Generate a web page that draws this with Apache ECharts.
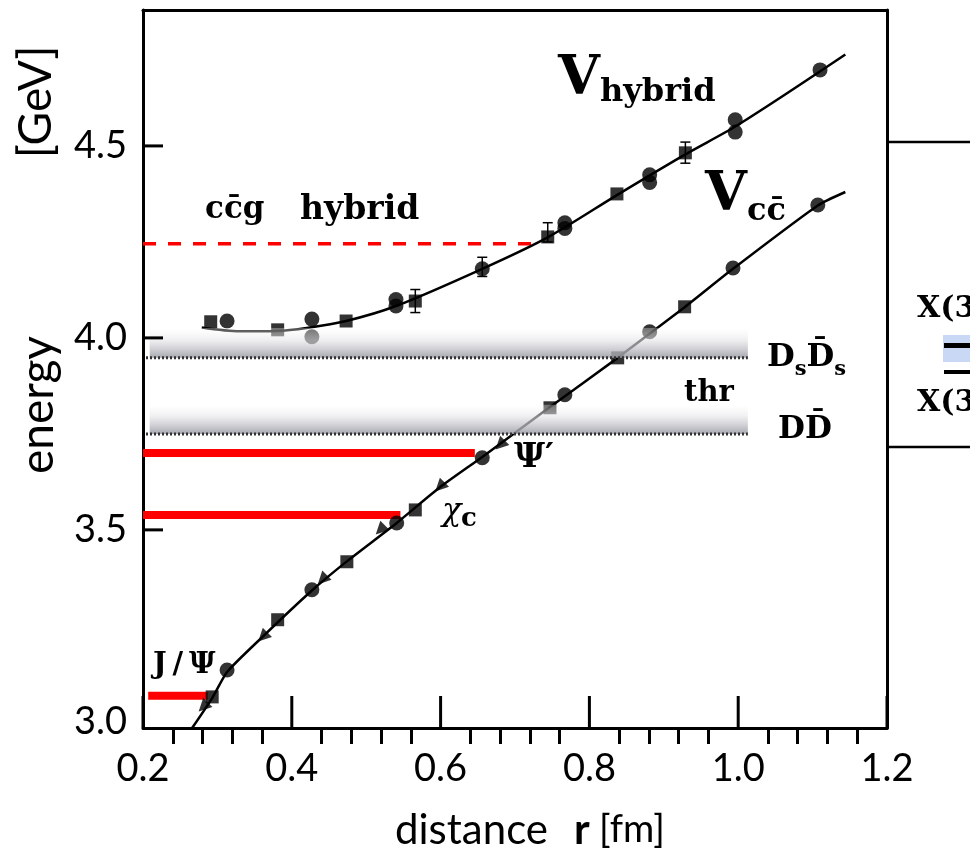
<!DOCTYPE html>
<html>
<head>
<meta charset="utf-8">
<script src="https://cdn.jsdelivr.net/npm/echarts@6/dist/echarts.min.js"></script>
<style>
  html, body { margin: 0; padding: 0; background: #fff; }
  #main { width: 970px; height: 858px; }
</style>
</head>
<body>
<div id="main"></div>
<script>
// 坐标范围与刻度
var xMin = 0.2, xMax = 1.2
var yMin = 2.984, yMax = 4.854
var xTicks = [0.2, 0.4, 0.6, 0.8, 1.0, 1.2]
var yTicks = [3.0, 3.5, 4.0, 4.5]
var yTickMarks = [3.5, 4.0, 4.5]

// 混合势 V_hybrid 拟合曲线
var hybCurveR = [0.279, 0.33, 0.38, 0.42, 0.473, 0.54, 0.656, 0.744, 0.837, 0.929, 1.0, 1.144]
var hybCurveE = [4.027, 4.017, 4.018, 4.026, 4.044, 4.083, 4.18, 4.262, 4.372, 4.478, 4.555, 4.738]
// 混合势 数据点
var hybSquareR = [0.291, 0.381, 0.473, 0.566, 0.744, 0.837, 0.929]
var hybSquareE = [4.042, 4.021, 4.044, 4.096, 4.263, 4.375, 4.482]
var hybCircleR = [0.313, 0.427, 0.427, 0.540, 0.540, 0.656, 0.767, 0.767, 0.881, 0.881, 0.996, 0.996, 1.11]
var hybCircleE = [4.044, 4.049, 4.003, 4.083, 4.100, 4.18, 4.285, 4.30, 4.405, 4.425, 4.536, 4.568, 4.698]
// 误差棒 r, 下, 上
var hybErrR = [0.566, 0.656, 0.744, 0.929]
var hybErrLo = [4.066, 4.16, 4.25, 4.455]
var hybErrHi = [4.126, 4.21, 4.30, 4.51]

// V_cc 拟合曲线
var ccCurveR = [0.266, 0.293, 0.313, 0.361, 0.427, 0.474, 0.541, 0.599, 0.656, 0.747, 0.838, 0.928, 0.993, 1.107, 1.144]
var ccCurveE = [2.984, 3.062, 3.13, 3.222, 3.342, 3.418, 3.518, 3.611, 3.69, 3.82, 3.948, 4.08, 4.18, 4.345, 4.38]
// V_cc 数据点
var ccCircleR = [0.313, 0.427, 0.541, 0.656, 0.767, 0.881, 0.993, 1.107]
var ccCircleE = [3.135, 3.344, 3.518, 3.688, 3.852, 4.016, 4.182, 4.346]
var ccSquareR = [0.293, 0.381, 0.474, 0.566, 0.747, 0.838, 0.928]
var ccSquareE = [3.065, 3.266, 3.417, 3.552, 3.818, 3.948, 4.081]
var ccTriR = [0.281, 0.361, 0.441, 0.519, 0.599, 0.68]
var ccTriE = [3.039, 3.221, 3.37, 3.50, 3.612, 3.721]

// 能级 (红线): 起点, 终点, 能量
var levelNames = ['J/Ψ', 'χc', "Ψ'"]
var levelFrom = [0.207, 0.2, 0.2]
var levelTo = [0.287, 0.546, 0.646]
var levelE = [3.068, 3.539, 3.70]
// ccg 混合 阈值 (虚线)
var hybLevelFrom = [0.2]
var hybLevelTo = [0.73]
var hybLevelE = [4.245]

// 阈值带 DsDs / DD
var bandFrom = [0.209, 0.209]
var bandTo = [1.013, 1.013]
var bandBottom = [3.948, 3.750]
var bandTop = [4.026, 3.826]

function pairs(a, b) {
    return a.map(function (v, i) { return [v, b[i]] })
}

var myChart = echarts.init(document.getElementById('main'))

// 只显示边框的轴
var frameOnly = {
    axisLine: { show: true, lineStyle: { color: '#000', width: 3 } },
    axisTick: { show: false },
    axisLabel: { show: false },
    splitLine: { show: false }
}

var option = {
    animation: false,
    grid: {
        left: 143,
        right: 83,
        top: 10,
        bottom: 130
    },
    xAxis: [{
        type: 'value',
        min: xMin,
        max: xMax,
        interval: 0.2,
        axisLine: { show: true, lineStyle: { color: '#000', width: 3 } },
        axisTick: { show: false },
        minorTick: { show: true, splitNumber: 5, length: 16, lineStyle: { color: '#000', width: 3 } },
        splitLine: { show: false },
        minorSplitLine: { show: false },
        axisLabel: {
            show: true,
            color: '#000',
            fontFamily: 'Lato',
            fontSize: 38,
            margin: 22,
            formatter: function (v) { return v.toFixed(1) }
        }
    }, Object.assign({ type: 'value', position: 'top', min: xMin, max: xMax }, frameOnly)],
    yAxis: [{
        type: 'value',
        min: yMin,
        max: yMax,
        axisLine: { show: true, lineStyle: { color: '#000', width: 3 } },
        axisTick: { show: false },
        splitLine: { show: false },
        axisLabel: {
            show: true,
            customValues: yTicks,
            color: '#000',
            fontFamily: 'Lato',
            fontSize: 38,
            margin: 16,
            formatter: function (v) { return v.toFixed(1) }
        }
    }, Object.assign({ type: 'value', position: 'right', min: yMin, max: yMax }, frameOnly)],
    series: [
        // 主刻度 (向内): x 轴竖线, y 轴横线
        {
            type: 'custom',
            z: 6,
            zlevel: 1,
            silent: true,
            data: xTicks.map(function (v) { return [v, yMin, 0] })
                .concat(yTickMarks.map(function (v) { return [xMin, v, 1] })),
            renderItem: function (params, api) {
                var p = api.coord([api.value(0), api.value(1)])
                if (params.dataIndex >= xTicks.length) {
                    return {
                        type: 'rect',
                        shape: { x: p[0], y: p[1] - 1.5, width: 20, height: 3 },
                        style: { fill: '#000' }
                    }
                }
                return {
                    type: 'rect',
                    shape: { x: p[0] - 1.5, y: p[1] - 32, width: 3, height: 32 },
                    style: { fill: '#000' }
                }
            }
        },
        // 红色能级线
        {
            type: 'custom',
            z: 1,
            data: levelE.map(function (e, i) { return [levelFrom[i], levelTo[i], e] }),
            renderItem: function (params, api) {
                var p0 = api.coord([api.value(0), api.value(2)])
                var p1 = api.coord([api.value(1), api.value(2)])
                return {
                    type: 'line',
                    shape: { x1: p0[0], y1: p0[1], x2: p1[0], y2: p1[1] },
                    style: { stroke: '#ff0000', lineWidth: 8 }
                }
            }
        },
        {
            type: 'custom',
            z: 1,
            data: hybLevelE.map(function (e, i) { return [hybLevelFrom[i], hybLevelTo[i], e] }),
            renderItem: function (params, api) {
                var p0 = api.coord([api.value(0), api.value(2)])
                var p1 = api.coord([api.value(1), api.value(2)])
                return {
                    type: 'line',
                    shape: { x1: p0[0], y1: p0[1], x2: p1[0], y2: p1[1] },
                    style: { stroke: '#ff0000', lineWidth: 3.5, lineDash: [13, 12] }
                }
            }
        },
        // 曲线
        {
            type: 'line',
            z: 2,
            smooth: 0.3,
            showSymbol: false,
            data: pairs(hybCurveR, hybCurveE),
            lineStyle: { color: '#000', width: 2.5 }
        },
        {
            type: 'line',
            z: 2,
            smooth: 0.2,
            showSymbol: false,
            data: pairs(ccCurveR, ccCurveE),
            lineStyle: { color: '#000', width: 2.5 }
        },
        // 误差棒
        {
            type: 'custom',
            z: 3,
            data: hybErrR.map(function (r, i) { return [r, hybErrLo[i], hybErrHi[i]] }),
            renderItem: function (params, api) {
                var lo = api.coord([api.value(0), api.value(1)])
                var hi = api.coord([api.value(0), api.value(2)])
                var w = 5
                return {
                    type: 'group',
                    children: [
                        { type: 'line', shape: { x1: lo[0], y1: lo[1], x2: hi[0], y2: hi[1] }, style: { stroke: '#000', lineWidth: 1.5 } },
                        { type: 'line', shape: { x1: lo[0] - w, y1: lo[1], x2: lo[0] + w, y2: lo[1] }, style: { stroke: '#000', lineWidth: 1.5 } },
                        { type: 'line', shape: { x1: hi[0] - w, y1: hi[1], x2: hi[0] + w, y2: hi[1] }, style: { stroke: '#000', lineWidth: 1.5 } }
                    ]
                }
            }
        },
        // 数据点
        {
            type: 'scatter', z: 3, symbol: 'rect', symbolSize: 13,
            itemStyle: { color: '#000' },
            data: pairs(hybSquareR, hybSquareE).concat(pairs(ccSquareR, ccSquareE))
        },
        {
            type: 'scatter', z: 3, symbol: 'circle', symbolSize: 15,
            itemStyle: { color: '#000' },
            data: pairs(hybCircleR, hybCircleE).concat(pairs(ccCircleR, ccCircleE))
        },
        {
            type: 'scatter', z: 3, symbol: 'triangle', symbolSize: 13, symbolRotate: 135,
            itemStyle: { color: '#000' },
            data: pairs(ccTriR, ccTriE)
        },
        // 阈值灰带
        {
            type: 'custom',
            z: 4,
            data: bandBottom.map(function (b, i) { return [bandFrom[i], bandTo[i], b, bandTop[i]] }),
            renderItem: function (params, api) {
                var tl = api.coord([api.value(0), api.value(3)])
                var br = api.coord([api.value(1), api.value(2)])
                var start = api.coord([xMin, api.value(2)])
                return {
                    type: 'group',
                    children: [
                        {
                            type: 'rect',
                            shape: { x: tl[0], y: tl[1], width: br[0] - tl[0], height: br[1] - tl[1] },
                            style: {
                                fill: new echarts.graphic.LinearGradient(0, 0, 0, 1, [
                                    { offset: 0, color: 'rgba(255,255,255,0.3)' },
                                    { offset: 0.4, color: 'rgba(228,228,232,0.6)' },
                                    { offset: 1, color: 'rgba(155,155,165,0.88)' }
                                ])
                            }
                        },
                        {
                            type: 'line',
                            shape: { x1: start[0] + 3, y1: br[1], x2: br[0], y2: br[1] },
                            style: { stroke: '#333', lineWidth: 3, lineDash: [2, 2] }
                        }
                    ]
                }
            }
        }
    ],
    graphic: [
        // 坐标轴名称
        { type: 'text', x: 38, y: 405, rotation: Math.PI / 2, style: { text: 'energy', font: '46px Lato', fill: '#000', textAlign: 'center', textVerticalAlign: 'middle' } },
        { type: 'text', x: 36, y: 102, rotation: Math.PI / 2, style: { text: '[GeV]', font: '46px Lato', fill: '#000', textAlign: 'center', textVerticalAlign: 'middle' } },
        { type: 'text', x: 395, y: 830, style: { text: 'distance', font: '42px Lato', fill: '#000', textVerticalAlign: 'middle' } },
        { type: 'text', x: 574, y: 830, style: { text: 'r', font: 'bold 42px Lato', fill: '#000', textVerticalAlign: 'middle' } },
        { type: 'text', x: 599, y: 830, style: { text: '[fm]', font: '38px Lato', fill: '#000', textVerticalAlign: 'middle' } },
        // 曲线标注
        { type: 'text', x: 558, y: 80, style: { text: 'V', font: 'bold 54px "DejaVu Serif"', fill: '#000', textVerticalAlign: 'middle' } },
        { type: 'text', x: 600, y: 93, style: { text: 'hybrid', font: 'bold 32px "DejaVu Serif"', fill: '#000', textVerticalAlign: 'middle' } },
        { type: 'text', x: 705, y: 196, style: { text: 'V', font: 'bold 54px "DejaVu Serif"', fill: '#000', textVerticalAlign: 'middle' } },
        { type: 'text', x: 747, y: 212, style: { text: 'cc\u0304', font: 'bold 32px "DejaVu Serif"', fill: '#000', textVerticalAlign: 'middle' } },
        { type: 'text', x: 205, y: 210, style: { text: 'cc\u0304g', font: 'bold 31px "DejaVu Serif"', fill: '#000', textVerticalAlign: 'middle' } },
        { type: 'text', x: 300, y: 210, style: { text: 'hybrid', font: 'bold 33px "DejaVu Serif"', fill: '#000', textVerticalAlign: 'middle' } },
        // 阈值标注
        {
            type: 'text', x: 767, y: 358,
            style: {
                text: '{d|D}{s|s}{d|D\u0304}{s|s}',
                textVerticalAlign: 'middle',
                rich: {
                    d: { fontFamily: 'DejaVu Serif', fontWeight: 'bold', fontSize: 32, fill: '#000', verticalAlign: 'bottom' },
                    s: { fontFamily: 'DejaVu Serif', fontWeight: 'bold', fontSize: 21, fill: '#000', verticalAlign: 'bottom', padding: [0, 0, -6, 0] }
                }
            }
        },
        { type: 'text', x: 684, y: 393, style: { text: 'thr', font: 'bold 29px "DejaVu Serif"', fill: '#000', textVerticalAlign: 'middle' } },
        { type: 'text', x: 778, y: 430, style: { text: 'DD\u0304', font: 'bold 31px "DejaVu Serif"', fill: '#000', textVerticalAlign: 'middle' } },
        // 能级标注
        { type: 'text', x: 514, y: 458, style: { text: 'Ψ\u2032', font: 'bold 34px "DejaVu Serif"', fill: '#000', textVerticalAlign: 'middle' } },
        { type: 'text', x: 442, y: 512, style: { text: 'χ', font: 'italic 32px "DejaVu Serif"', fill: '#000', textVerticalAlign: 'middle' } },
        { type: 'text', x: 461, y: 519, style: { text: 'c', font: 'bold 26px "DejaVu Serif"', fill: '#000', textVerticalAlign: 'middle' } },
        { type: 'text', x: 153, y: 665, style: { text: 'J\u2009/\u2009Ψ', font: 'bold 29px "DejaVu Serif"', fill: '#000', textVerticalAlign: 'middle' } },
        // 右侧相邻面板
        { type: 'line', shape: { x1: 887, y1: 142, x2: 970, y2: 142 }, style: { stroke: '#000', lineWidth: 2.5 } },
        { type: 'line', shape: { x1: 887, y1: 447, x2: 970, y2: 447 }, style: { stroke: '#000', lineWidth: 2.5 } },
        { type: 'rect', shape: { x: 943, y: 335, width: 27, height: 27 }, style: { fill: '#c8d8f5' } },
        { type: 'rect', shape: { x: 944, y: 343, width: 26, height: 5 }, style: { fill: '#000' } },
        { type: 'rect', shape: { x: 944, y: 370, width: 26, height: 4 }, style: { fill: '#000' } },
        { type: 'text', x: 917, y: 309, style: { text: 'X(3', font: 'bold 30px "DejaVu Serif"', fill: '#000', textVerticalAlign: 'middle' } },
        { type: 'text', x: 917, y: 403, style: { text: 'X(3', font: 'bold 30px "DejaVu Serif"', fill: '#000', textVerticalAlign: 'middle' } }
    ]
}

myChart.setOption(option)
</script>
</body>
</html>
